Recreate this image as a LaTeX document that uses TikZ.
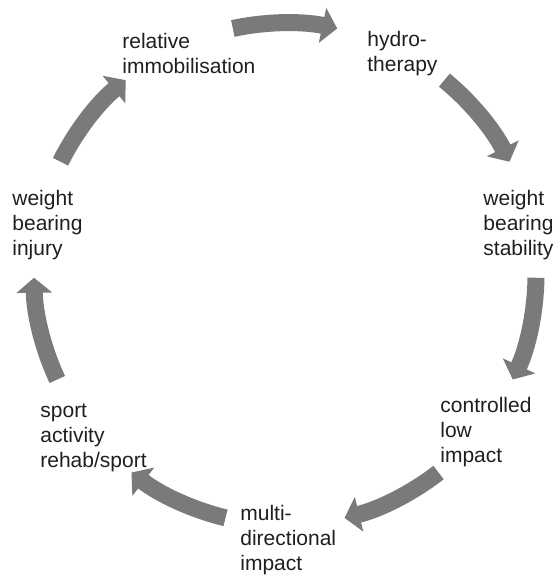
\documentclass[tikz,border=0pt]{standalone}
\usepackage{fontspec}
\setmainfont{Liberation Sans}
\usetikzlibrary{arrows.meta,calc}
\begin{document}
\begin{tikzpicture}[x=0.5pt, y=-0.5pt,
    lbl/.style={anchor=north west, inner sep=0pt, align=left, text=black!88,
      font=\fontsize{10.5}{12.5}\selectfont},
    cyc/.style={line width=8.5pt, black!52, -{Triangle[width=17.5pt, length=7.5pt]}}]
  \useasboundingbox (0,0) rectangle (555,576);
  \coordinate (c) at (285,274);

  % stages, clockwise from the top
  \node[lbl] (immob) at (122,33) {relative\\immobilisation};
  \node[lbl] (hydro) at (367,31) {hydro-\\therapy};
  \node[lbl] (stab) at (483,190) {weight\\bearing\\stability};
  \node[lbl] (low) at (440,397) {controlled\\low\\impact};
  \node[lbl] (multi) at (240,505) {multi-\\directional\\impact};
  \node[lbl] (sport) at (40,404) {sport\\activity\\rehab/sport};
  \node[lbl] (injury) at (12,190) {weight\\bearing\\injury};

  % seven arrows on one circle, 360/7 apart
  \foreach \k in {0,...,6} {
    \pgfmathsetmacro{\m}{-90+\k*360/7}
    \draw[cyc] ($(c)+(\m-12:251)$) arc[start angle=\m-12, end angle=\m+12, radius=251];
  }
\end{tikzpicture}
\end{document}
